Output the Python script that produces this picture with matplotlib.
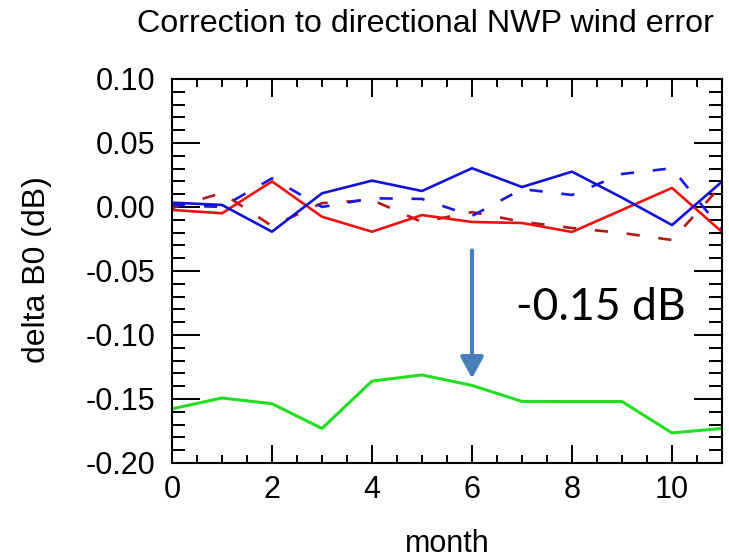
import matplotlib
matplotlib.use("Agg")
import matplotlib.pyplot as plt
from matplotlib.ticker import MultipleLocator, FixedLocator, FixedFormatter

# Monthly corrections to the directional NWP wind error (dB)
months = list(range(12))
blue_solid = [0.0034, 0.0016, -0.0193, 0.0107, 0.0206, 0.0125, 0.0303, 0.0156, 0.0276, 0.0073, -0.0141, 0.0198]
blue_dashed = [0.0016, 0.0000, 0.0224, 0.0000, 0.0068, 0.0063, -0.0070, 0.0140, 0.0094, 0.0258, 0.0303, -0.0180]
red_solid = [-0.0023, -0.0049, 0.0200, -0.0076, -0.0193, -0.0063, -0.0117, -0.0125, -0.0195, -0.0023, 0.0149, -0.0195]
red_dashed = [-0.0008, 0.0110, -0.0149, 0.0030, 0.0055, -0.0117, -0.0040, -0.0115, -0.0164, -0.0203, -0.0258, 0.0172]
green_total = [-0.1577, -0.1492, -0.1537, -0.1730, -0.1360, -0.1312, -0.1394, -0.1519, -0.1520, -0.1520, -0.1765, -0.1730]

x_ticks = [0, 2, 4, 6, 8, 10]
x_tick_labels = ["0", "2", "4", "6", "8", "10"]
y_ticks = [-0.20, -0.15, -0.10, -0.05, 0.00, 0.05, 0.10]
y_tick_labels = ["-0.20", "-0.15", "-0.10", "-0.05", "0.00", "0.05", "0.10"]

arrow_month = 6
arrow_from = -0.034
arrow_to = -0.134
shift_label = "-0.15 dB"

plt.rcParams['font.family'] = ['Liberation Sans', 'DejaVu Sans']
plt.rcParams['lines.scale_dashes'] = False

W, H = 729, 560
fig = plt.figure(figsize=(W / 100, H / 100), dpi=100)
ax = fig.add_axes([172 / W, 1 - 463 / H, 550 / W, 384 / H])

dash = (9.5, 13.5)
ax.plot(months, green_total, color='#22dd22', lw=2.2)
ax.plot(months, red_dashed, color='#b41818', lw=1.9, dashes=dash)
ax.plot(months, blue_dashed, color='#1818e6', lw=1.9, dashes=dash)
ax.plot(months, red_solid, color='#ee1111', lw=1.9)
ax.plot(months, blue_solid, color='#1212d2', lw=1.9)

ax.set_xlim(0, 11)
ax.set_ylim(-0.20, 0.10)
ax.xaxis.set_major_locator(FixedLocator(x_ticks))
ax.xaxis.set_major_formatter(FixedFormatter(x_tick_labels))
ax.xaxis.set_minor_locator(MultipleLocator(0.5))
ax.yaxis.set_major_locator(FixedLocator(y_ticks))
ax.yaxis.set_major_formatter(FixedFormatter(y_tick_labels))
ax.yaxis.set_minor_locator(MultipleLocator(0.01))

for s in ax.spines.values():
    s.set_linewidth(1.5)
    s.set_color('black')

ax.tick_params(axis='both', which='both', direction='in', top=True, right=True,
               color='black', width=1.4, labelsize=22)
ax.tick_params(axis='x', which='major', length=13, pad=9)
ax.tick_params(axis='x', which='minor', length=5.8)
ax.tick_params(axis='y', which='major', length=20, pad=12)
ax.tick_params(axis='y', which='minor', length=9.4)

# Arrow and label marking the overall shift
ax.annotate('', xy=(arrow_month, arrow_to), xytext=(arrow_month, arrow_from),
            arrowprops=dict(arrowstyle='-|>,head_length=1.3,head_width=0.7',
                            color='#4a7ebb', lw=3, shrinkA=0, shrinkB=0))
fig.text(601 / W, 1 - 307 / H, shift_label, ha='center', va='center',
         fontsize=32, family=['Lato', 'DejaVu Sans'], color='black')

fig.text(137 / W, 1 - 32 / H, "Correction to directional NWP wind error",
         ha='left', va='baseline', fontsize=23.2)
fig.text(447 / W, 1 - 552 / H, "month", ha='center', va='baseline', fontsize=22)
fig.text(37 / W, 1 - 270 / H, "delta B0 (dB)", ha='center', va='center',
         rotation=90, fontsize=23)

fig.savefig("out.png", dpi=100)
